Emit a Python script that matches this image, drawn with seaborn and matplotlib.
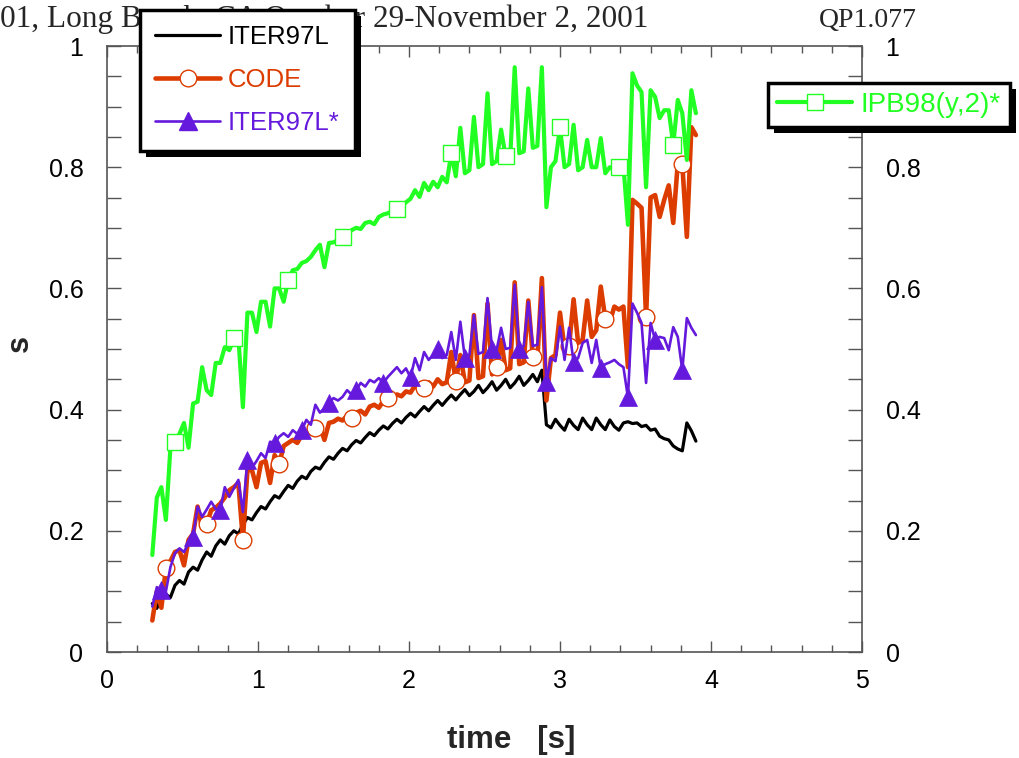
import numpy as np
import pandas as pd
import seaborn as sns
import matplotlib
matplotlib.use("Agg")
import matplotlib.pyplot as plt
from matplotlib.lines import Line2D
from matplotlib.patches import Rectangle
from matplotlib.ticker import MultipleLocator, FuncFormatter

# ---------------- data ----------------
time = np.round(np.linspace(0.30, 3.90, 121), 2)

iter97l = [
    0.080, 0.072, 0.090, 0.095, 0.090, 0.110, 0.118, 0.112, 0.132, 0.140,
    0.135, 0.152, 0.165, 0.158, 0.175, 0.185, 0.178, 0.192, 0.200, 0.195,
    0.210, 0.222, 0.218, 0.230, 0.240, 0.236, 0.248, 0.258, 0.254, 0.265,
    0.275, 0.270, 0.282, 0.290, 0.286, 0.298, 0.305, 0.302, 0.313, 0.322,
    0.318, 0.328, 0.336, 0.332, 0.342, 0.349, 0.345, 0.354, 0.362, 0.357,
    0.366, 0.373, 0.368, 0.377, 0.384, 0.378, 0.387, 0.394, 0.388, 0.397,
    0.405, 0.398, 0.407, 0.415, 0.407, 0.416, 0.424, 0.416, 0.425, 0.433,
    0.423, 0.430, 0.440, 0.428, 0.436, 0.446, 0.432, 0.440, 0.450, 0.436,
    0.444, 0.455, 0.440, 0.448, 0.458, 0.446, 0.465, 0.375, 0.370, 0.384,
    0.374, 0.366, 0.384, 0.374, 0.367, 0.386, 0.375, 0.367, 0.386, 0.375,
    0.367, 0.383, 0.372, 0.366, 0.378, 0.380, 0.377, 0.378, 0.372, 0.374,
    0.366, 0.368, 0.356, 0.352, 0.350, 0.340, 0.335, 0.332, 0.378, 0.365,
    0.348,
]

code = [
    0.052, 0.100, 0.073, 0.138, 0.150, 0.165, 0.168, 0.143, 0.185, 0.195,
    0.240, 0.205, 0.211, 0.234, 0.238, 0.245, 0.255, 0.267, 0.272, 0.279,
    0.185, 0.300, 0.300, 0.272, 0.312, 0.315, 0.279, 0.325, 0.310, 0.340,
    0.345, 0.350, 0.345, 0.358, 0.361, 0.365, 0.370, 0.372, 0.350, 0.378,
    0.380, 0.385, 0.382, 0.390, 0.386, 0.395, 0.398, 0.392, 0.405, 0.408,
    0.403, 0.414, 0.419, 0.420, 0.425, 0.422, 0.430, 0.428, 0.440, 0.432,
    0.435, 0.445, 0.438, 0.450, 0.442, 0.445, 0.495, 0.447, 0.490, 0.445,
    0.448, 0.556, 0.452, 0.455, 0.575, 0.458, 0.470, 0.515, 0.465, 0.468,
    0.610, 0.475, 0.478, 0.580, 0.487, 0.483, 0.617, 0.415, 0.485, 0.490,
    0.560, 0.500, 0.505, 0.582, 0.510, 0.515, 0.580, 0.520, 0.531, 0.603,
    0.550, 0.545, 0.570, 0.565, 0.570, 0.470, 0.746, 0.740, 0.733, 0.553,
    0.750, 0.754, 0.718, 0.746, 0.770, 0.708, 0.807, 0.805, 0.685, 0.866,
    0.853,
]

iter97l_star = [
    0.075, 0.107, 0.102, 0.100, 0.140, 0.163, 0.171, 0.165, 0.180, 0.190,
    0.240, 0.223, 0.235, 0.248, 0.236, 0.234, 0.272, 0.256, 0.270, 0.284,
    0.231, 0.317, 0.304, 0.315, 0.328, 0.320, 0.347, 0.345, 0.355, 0.361,
    0.355, 0.366, 0.360, 0.366, 0.383, 0.375, 0.408, 0.395, 0.402, 0.411,
    0.419, 0.415, 0.421, 0.432, 0.425, 0.432, 0.444, 0.438, 0.449, 0.445,
    0.452, 0.444, 0.454, 0.462, 0.470, 0.460, 0.468, 0.453, 0.485, 0.465,
    0.495, 0.482, 0.490, 0.500, 0.485, 0.490, 0.528, 0.482, 0.545, 0.485,
    0.490, 0.556, 0.492, 0.495, 0.584, 0.500, 0.498, 0.535, 0.500, 0.502,
    0.606, 0.500, 0.505, 0.578, 0.505, 0.507, 0.602, 0.446, 0.485, 0.480,
    0.537, 0.482, 0.535, 0.478, 0.485, 0.510, 0.515, 0.477, 0.515, 0.468,
    0.475, 0.478, 0.482, 0.475, 0.470, 0.420, 0.575, 0.560, 0.543, 0.444,
    0.543, 0.515, 0.520, 0.518, 0.498, 0.536, 0.520, 0.465, 0.551, 0.535,
    0.523,
]

ipb98 = [
    0.160, 0.255, 0.272, 0.218, 0.337, 0.347, 0.360, 0.378, 0.337, 0.410,
    0.413, 0.470, 0.432, 0.424, 0.477, 0.477, 0.503, 0.498, 0.518, 0.520,
    0.404, 0.560, 0.560, 0.528, 0.578, 0.578, 0.537, 0.600, 0.600, 0.578,
    0.614, 0.630, 0.632, 0.642, 0.645, 0.652, 0.663, 0.672, 0.635, 0.675,
    0.676, 0.680, 0.685, 0.690, 0.696, 0.700, 0.698, 0.708, 0.710, 0.706,
    0.718, 0.722, 0.724, 0.728, 0.731, 0.735, 0.742, 0.748, 0.762, 0.751,
    0.774, 0.762, 0.776, 0.767, 0.784, 0.775, 0.823, 0.785, 0.865, 0.790,
    0.795, 0.883, 0.800, 0.805, 0.922, 0.805, 0.810, 0.862, 0.818, 0.815,
    0.965, 0.823, 0.826, 0.930, 0.832, 0.835, 0.965, 0.734, 0.800, 0.810,
    0.866, 0.800, 0.805, 0.870, 0.795, 0.800, 0.845, 0.800, 0.800, 0.848,
    0.790, 0.800, 0.795, 0.800, 0.803, 0.705, 0.955, 0.935, 0.924, 0.767,
    0.927, 0.916, 0.881, 0.894, 0.894, 0.837, 0.911, 0.889, 0.812, 0.927,
    0.889,
]

labels_left = ["ITER97L", "CODE", "ITER97L*"]
label_right = "IPB98(y,2)*"
y_ticks = [0, 0.2, 0.4, 0.6, 0.8, 1.0]
x_ticks = [0, 1, 2, 3, 4, 5]

df = pd.DataFrame({"time": time, "ITER97L": iter97l, "CODE": code,
                   "ITER97L*": iter97l_star, "IPB98": ipb98})

# ---------------- style ----------------
sns.set_theme(style="ticks")
plt.rcParams["font.family"] = ["Liberation Sans", "DejaVu Sans"]

BLACK = "#000000"
RED = "#DC3C00"
PURPLE = "#6419DC"
GREEN = "#22FF22"

circle_idx = [3, 12, 20, 28, 36, 44, 52, 60, 67, 76, 84, 92, 100, 109, 117]
square_idx = [5, 18, 30, 42, 54, 66, 78, 90, 103, 115]
tri_idx = [2, 9, 15, 21, 27, 33, 39, 45, 51, 57, 63, 69, 75, 81, 87, 93, 99,
           105, 111, 117]

W, H = 1019, 758
fig = plt.figure(figsize=(W / 100, H / 100), dpi=100)
ax = fig.add_axes([107 / W, 1 - 652 / H, 755 / W, 606 / H])

sns.lineplot(data=df, x="time", y="ITER97L", ax=ax, color=BLACK, lw=2.3,
             estimator=None, sort=False, zorder=2)
sns.lineplot(data=df, x="time", y="CODE", ax=ax, color=RED, lw=3.3,
             estimator=None, sort=False, marker="o", markevery=circle_idx,
             ms=12, mfc="white", mec=RED, mew=1.0, zorder=3)
sns.lineplot(data=df, x="time", y="ITER97L*", ax=ax, color=PURPLE, lw=1.9,
             estimator=None, sort=False, marker="^", markevery=tri_idx,
             ms=12.5, mfc=PURPLE, mec=PURPLE, mew=0.5, zorder=4)
sns.lineplot(data=df, x="time", y="IPB98", ax=ax, color=GREEN, lw=3.0,
             estimator=None, sort=False, marker="s", markevery=square_idx,
             ms=12, mfc="white", mec=GREEN, mew=1.0, zorder=5)

ax.set_xlim(0, 5)
ax.set_ylim(0, 1)
ax.set_xticks(x_ticks)
ax.set_yticks(y_ticks)
ax.xaxis.set_minor_locator(MultipleLocator(0.2))
ax.yaxis.set_minor_locator(MultipleLocator(0.05))
ax.yaxis.set_major_formatter(FuncFormatter(lambda v, p: f"{v:g}"))
ax.xaxis.set_major_formatter(FuncFormatter(lambda v, p: f"{v:g}"))
ax.set_xlabel("")
ax.set_ylabel("")

for s in ax.spines.values():
    s.set_color("#555555")
    s.set_linewidth(1.2)

ax.tick_params(which="both", direction="in", top=True, right=True,
               labelright=True, color="#555555", width=1.0,
               labelsize=18, labelcolor="black")
ax.tick_params(axis="x", which="major", length=8, pad=12)
ax.tick_params(axis="x", which="minor", length=5)
ax.tick_params(axis="y", which="both", length=10, pad=17)

fig.text(511 / W, 1 - 740 / H, "time   [s]", ha="center", va="center",
         fontsize=22.5, fontweight="bold")
fig.text(20 / W, 1 - 343 / H, "s", ha="center", va="center", rotation=90,
         fontsize=22, fontweight="bold")

# header line of the page
fig.text(0, 1 - 27 / H, "01, Long Beach, CA October 29-November 2, 2001",
         ha="left", va="baseline", fontsize=22.5,
         family=["Liberation Serif", "DejaVu Serif"], zorder=1)
fig.text(917 / W, 1 - 27 / H, "QP1.077", ha="right", va="baseline",
         fontsize=20, family=["Liberation Serif", "DejaVu Serif"], zorder=1)

# legends
h_black = Line2D([], [], color=BLACK, lw=2.3)
h_code = Line2D([], [], color=RED, lw=3.3, marker="o", ms=12, mfc="white",
                mec=RED, mew=1.0)
h_star = Line2D([], [], color=PURPLE, lw=1.9, marker="^", ms=12.5,
                mfc=PURPLE, mec=PURPLE)
h_ipb = Line2D([], [], color=GREEN, lw=3.0, marker="s", ms=12, mfc="white",
               mec=GREEN, mew=1.0)

leg1 = fig.legend([h_black, h_code, h_star], labels_left, loc="upper left",
                  bbox_to_anchor=(140 / W, 1 - 10 / H), borderaxespad=0,
                  frameon=True, fancybox=False, edgecolor="black",
                  framealpha=1, fontsize=18.5, handlelength=2.5,
                  labelspacing=0.74, borderpad=0.6, handletextpad=0.3)
leg1.get_frame().set_linewidth(2.5)
for t, c in zip(leg1.get_texts(), [BLACK, RED, PURPLE]):
    t.set_color(c)

leg2 = fig.legend([h_ipb], [label_right], loc="upper left",
                  bbox_to_anchor=(768 / W, 1 - 83 / H), borderaxespad=0,
                  frameon=True, fancybox=False, edgecolor="black",
                  framealpha=1, fontsize=20, handlelength=2.7,
                  borderpad=0.33, handletextpad=0.3)
leg2.get_frame().set_linewidth(2.5)
leg2.get_texts()[0].set_color(GREEN)

# solid black drop shadows behind the legend boxes
fig.canvas.draw()
for lg in (leg1, leg2):
    bb = lg.get_frame().get_window_extent()
    r = Rectangle(((bb.x0 + 6) / W, (bb.y0 - 6) / H), bb.width / W,
                  bb.height / H, transform=fig.transFigure,
                  facecolor="black", edgecolor="none",
                  zorder=lg.get_zorder() - 0.5)
    fig.add_artist(r)

fig.savefig("out.png", dpi=100)
